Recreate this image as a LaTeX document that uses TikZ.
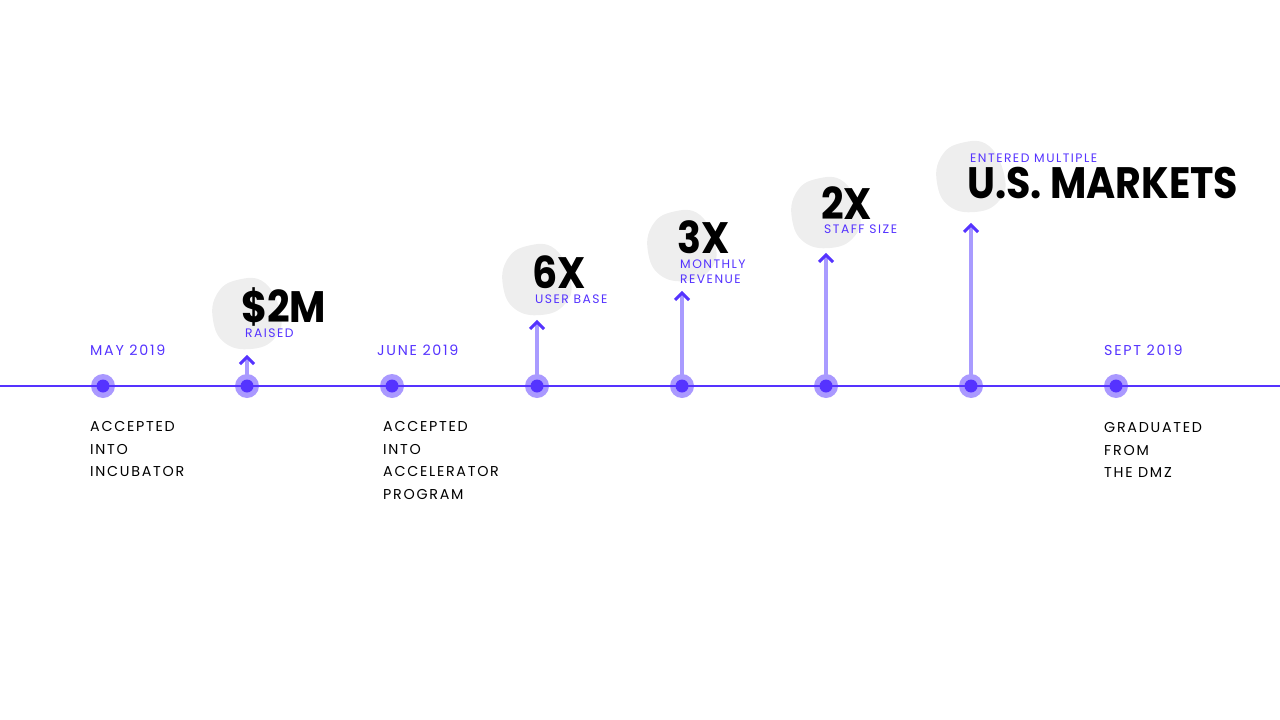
\documentclass[tikz,border=0pt]{standalone}
\usepackage{fontspec}
\setmainfont{Poppins}
\newfontfamily\labfont[LetterSpace=12]{Poppins}
\newfontfamily\headfont[FakeStretch=0.9]{Poppins}
\usetikzlibrary{calc}
\definecolor{tl}{HTML}{5533FF}
\definecolor{tllight}{HTML}{A99BFF}
\definecolor{blobgray}{HTML}{EEEEEE}
\tikzset{
  lab/.style={font=\labfont\fontsize{12.3}{12}\selectfont, text=tl, anchor=base west, inner sep=0, text height=9pt, text depth=0pt},
  datelab/.style={font=\labfont\fontsize{14.3}{14}\selectfont, text=tl, anchor=base west, inner sep=0},
  desc/.style={font=\labfont\fontsize{14.3}{14}\selectfont, text=black, anchor=base west, inner sep=0},
  head/.style={font=\headfont\bfseries\fontsize{44}{44}\selectfont, text=black, anchor=base west, inner sep=0, text depth=0pt},
  halo/.style={circle, fill=tl, fill opacity=0.5, minimum size=24pt, inner sep=0},
  core/.style={circle, fill=tl, minimum size=13pt, inner sep=0},
  stem/.style={draw=tllight, line width=4pt},
  chev/.style={draw=tl, line width=3pt, line join=miter},
  blob/.style={fill=blobgray}
}
\newcommand\blobat[2]{\fill[blob, shift={(#1,#2)}] plot[smooth cycle, tension=0.75] coordinates {(34,2) (27,25) (4,35) (-22,29) (-34,6) (-30,-20) (-10,-34) (18,-31)};}
\begin{document}
\begin{tikzpicture}[x=1pt, y=-1pt]
\useasboundingbox (0,0) rectangle (1280,720);
% blobs
\blobat{247}{314}
\blobat{537}{280}
\blobat{682}{246}
\blobat{826}{213}
\blobat{971}{177}
% timeline
\coordinate (L) at (0,386);
\coordinate (R) at (1280,386);
\draw[tl, line width=2pt] (L) -- (R);
% tips
\coordinate (t2) at (247,357);
\coordinate (t4) at (537,322);
\coordinate (t5) at (682,293);
\coordinate (t6) at (826,255);
\coordinate (t7) at (971,225);
% halo nodes
\foreach \i/\x in {1/103,2/247,3/392,4/537,5/682,6/826,7/971,8/1116}{
  \node[halo] (d\i) at (\x,386) {};
}
\foreach \i in {2,4,5,6,7}{
  \draw[stem] (d\i.center) -- ($(t\i)+(0,2)$);
  \draw[chev] ($(t\i)+(-7,7)$) -- (t\i) -- ($(t\i)+(7,7)$);
}
\foreach \i in {1,...,8}{
  \node[core] (c\i) at (d\i) {};
}
% dates
\node[datelab] (m1) at (90,355.5) {MAY 2019};
\node[datelab] (m3) at (377,355.5) {JUNE 2019};
\node[datelab] (m8) at (1104,355.5) {SEPT 2019};
% descriptions
\node[desc] (a1) at (90,431) {ACCEPTED};
\node[desc] (a2) at (90,454) {INTO};
\node[desc] (a3) at (90,476) {INCUBATOR};
\node[desc] (b1) at (383,431) {ACCEPTED};
\node[desc] (b2) at (383,454) {INTO};
\node[desc] (b3) at (383,476) {ACCELERATOR};
\node[desc] (b4) at (383,499) {PROGRAM};
\node[desc] (g1) at (1104,432) {GRADUATED};
\node[desc] (g2) at (1104,455) {FROM};
\node[desc] (g3) at (1104,477) {THE DMZ};
% headline figures
\node[head] (h2) at (241,322) {\$2M};
\node[lab] (s2) at (245,337) {RAISED};
\node[head] (h4) at (532,288) {6X};
\node[lab] (s4) at (535,303) {USER BASE};
\node[head] (h5) at (677,253) {3X};
\node[lab] (s5a) at (680,268) {MONTHLY};
\node[lab] (s5b) at (680,283) {REVENUE};
\node[head] (h6) at (821,219) {2X};
\node[lab] (s6) at (824,233) {STAFF SIZE};
\node[lab] (s7) at (970,162) {ENTERED MULTIPLE};
\node[head] (h7) at (967,198) {U.S. MARKETS};
\end{tikzpicture}
\end{document}
